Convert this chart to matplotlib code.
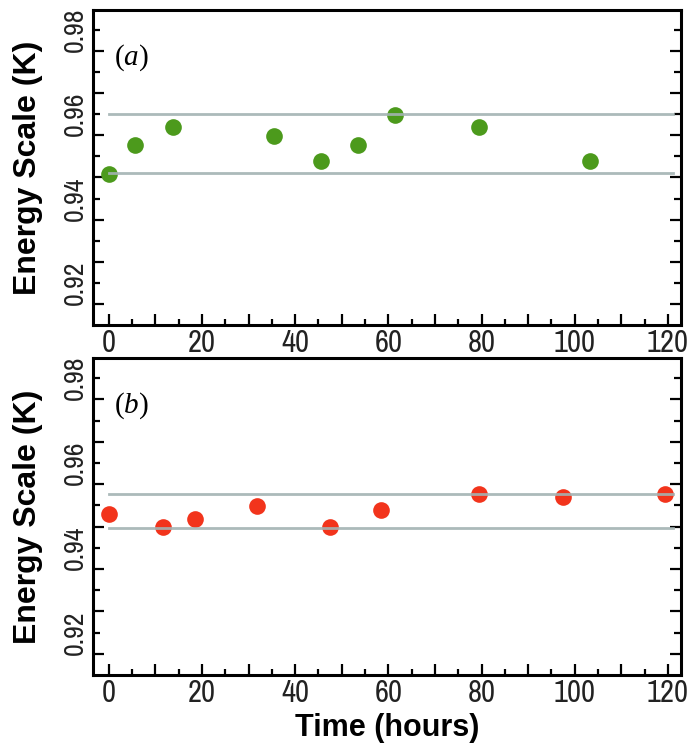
import numpy as np
import matplotlib
matplotlib.use("Agg")
import matplotlib.pyplot as plt

plt.rcParams['font.family'] = ['Liberation Sans', 'DejaVu Sans']
plt.rcParams['mathtext.fontset'] = 'custom'
plt.rcParams['mathtext.it'] = 'Liberation Serif:italic'
plt.rcParams['mathtext.rm'] = 'Liberation Serif'

# panel (a) - green points
time_a = [0, 5.6, 13.7, 35.5, 45.6, 53.5, 61.5, 79.4, 103.3]
scale_a = [0.9459, 0.9528, 0.9569, 0.9549, 0.9489, 0.9528, 0.9599, 0.9569, 0.9489]
band_a = [0.9460, 0.9600]

# panel (b) - red points
time_b = [0, 11.7, 18.6, 31.7, 47.4, 58.5, 79.4, 97.4, 119.4]
scale_b = [0.9480, 0.9448, 0.9469, 0.9498, 0.9448, 0.9490, 0.9528, 0.9520, 0.9528]
band_b = [0.9447, 0.9528]

xticks = [0, 20, 40, 60, 80, 100, 120]
yticks = [0.92, 0.94, 0.96, 0.98]

tick_font = ['Archivo Narrow', 'Liberation Sans', 'DejaVu Sans']

fig = plt.figure(figsize=(6.92, 7.51), dpi=100)
ax_a = fig.add_axes([0.1344, 0.5672, 0.8496, 0.4195])
ax_b = fig.add_axes([0.1344, 0.1012, 0.8496, 0.4217])


def style(ax, t, e, band, color, tag):
    ax.plot(t, e, 'o', color=color, markersize=12, markeredgewidth=0, zorder=2)
    for b in band:
        ax.plot([0, 121], [b, b], color='#a3b3b3', lw=2.0, alpha=0.9, zorder=3)
    ax.set_xlim(-3.4, 122.8)
    ax.set_ylim(0.91, 0.9847)
    ax.set_xticks(np.arange(0, 121, 10))
    ax.set_xticklabels([str(v) if v in xticks else '' for v in range(0, 121, 10)])
    ax.set_xticks(np.arange(5, 121, 10), minor=True)
    ymaj = np.round(np.arange(0.92, 0.981, 0.01), 3)
    ax.set_yticks(ymaj)
    ax.set_yticklabels(['%.2f' % v if np.isclose(v, yticks).any() else '' for v in ymaj])
    ax.set_yticks(np.round(np.arange(0.915, 0.984, 0.01), 3), minor=True)
    ax.tick_params(axis='x', which='major', direction='in', length=8, width=1.6,
                   labelsize=22, pad=3, top=False)
    ax.tick_params(axis='x', which='minor', direction='in', length=4, width=1.6, top=False)
    ax.tick_params(axis='y', which='major', direction='in', length=5, width=1.6,
                   labelsize=20, pad=4, right=True, labelrotation=90)
    ax.tick_params(axis='y', which='minor', direction='in', length=8, width=1.6, right=True)
    for lbl in ax.get_yticklabels() + ax.get_xticklabels():
        lbl.set_family(tick_font)
        lbl.set_color('#222222')
    for lbl in ax.get_yticklabels():
        lbl.set_va('center')
    for s in ax.spines.values():
        s.set_linewidth(2.2)
    ax.set_ylabel('Energy Scale (K)', fontsize=23, fontweight='bold', labelpad=14)
    ax.text(0.035, 0.85, '($\\mathit{' + tag + '}$)', transform=ax.transAxes,
            fontsize=21, family='Liberation Serif', ha='left', va='center')


style(ax_a, time_a, scale_a, band_a, '#4c9a1c', 'a')
style(ax_b, time_b, scale_b, band_b, '#f2341c', 'b')
ax_b.set_xlabel('Time (hours)', fontsize=22, fontweight='bold', labelpad=4)

fig.savefig('out.png', dpi=100)
